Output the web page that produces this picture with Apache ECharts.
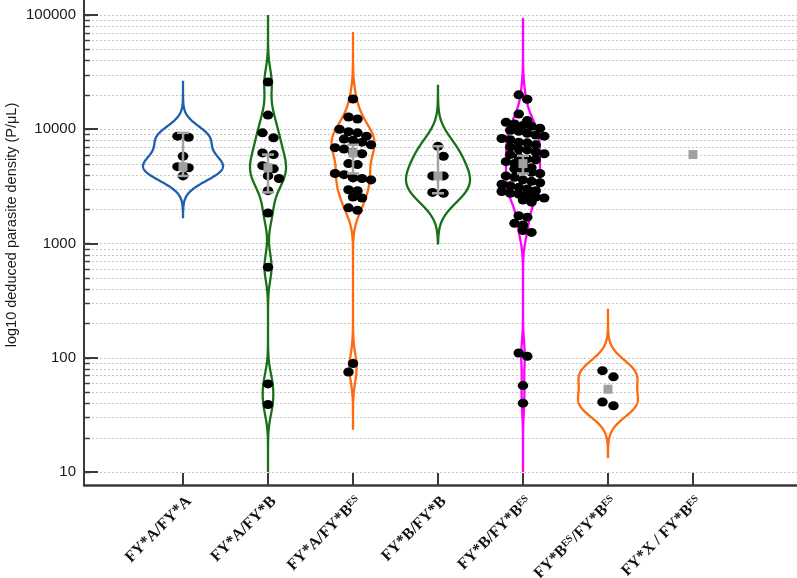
<!DOCTYPE html>
<html><head><meta charset="utf-8">
<script src="https://cdn.jsdelivr.net/npm/echarts@6/dist/echarts.min.js"></script>
<style>html,body{margin:0;padding:0;background:#fff}#c{width:797px;height:578px}</style>
</head><body><div id="c"></div>
<script>
// ---------------- DATA ----------------
const categories = ['FY*A/FY*A','FY*A/FY*B','FY*A/FY*B^ES','FY*B/FY*B','FY*B/FY*B^ES','FY*B^ES/FY*B^ES','FY*X / FY*B^ES'];
const yTickLabels = ['10','100','1000','10000','100000'];
const yTickValues = [10, 100, 1000, 10000, 100000];
const yTitle = 'log10 deduced parasite density (P/\u03bcL)';

const gAA   = [8700, 8500, 5800, 4700, 4600, 3900];
const gAB   = [25900, 13300, 9300, 8400, 6200, 6000, 4800, 4500, 3900, 3700, 2900, 1850, 620, 59, 39];
const gABes = [18400, 12800, 12300, 10000, 9500, 9300, 8700, 8200, 8000, 7700, 7300, 6900, 6700, 6300, 6100,
               5000, 4900, 4100, 4000, 3750, 3700, 3600, 2950, 2900, 2550, 2500, 2050, 1950, 89, 75];
const gBB   = [7100, 5800, 3900, 3900, 2800, 2750];
const gBBes = [20000, 18300, 13600, 11900, 11500, 11100, 10800, 10600, 10200, 9800, 9600, 9200, 8900, 8700, 8300,
               8100, 7700, 7600, 7300, 7000, 6700, 6600, 6300, 6100, 6000, 5700, 5500, 5400, 5200, 5000, 4900,
               4600, 4500, 4400, 4200, 4100, 3900, 3800, 3600, 3500, 3400, 3300, 3200, 3100, 3000, 2900, 2850,
               2750, 2700, 2650, 2550, 2500, 2400, 2300, 1750, 1700, 1500, 1450, 1300, 1250, 110, 103, 57, 40];
const gBesBes = [77, 68, 41, 38];
const gXBes = [];
const groups = [gAA, gAB, gABes, gBB, gBBes, gBesBes, gXBes];

// violin extent (tails)
const violinLow  = [1700, 10, 24, 1000, 10, 13.5, null];
const violinHigh = [26000, 100000, 71000, 24000, 94000, 262, null];
// gray summary marks
const boxTop     = [9300, 6000, 7300, 7100, 5850, null, null];
const boxBottom  = [3900, 2800, 4100, 2750, 4100, null, null];
const centerMark = [4700, 4600, 6200, 3900, 5000, 53, 6000];

// ---------------- STYLE / LAYOUT ----------------
const violinColors = ['#1f5fad', '#177217', '#ff6a0d', '#177217', '#ff00ff', '#ff6a0d', null];
const bandwidths = [0.1, 0.12, 0.12, 0.14, 0.12, 0.12, 0];
const maxHalf = [40, 18, 21.5, 32, 17, 30, 0];
const swarmDX = [11, 11, 9, 11, 8.5, 11, 11];
const W = 797, H = 578;
const GRID = {left: 84, right: 0, top: 0, bottom: 93};
const YMIN = 0.886, YMAX = 5.131;
const XMIN = -0.165, XMAX = 8.224;
const pxPerLog = (H - GRID.top - GRID.bottom) / (YMAX - YMIN);
const pxPerCat = (W - GRID.left - GRID.right) / (XMAX - XMIN);
const DOT_W = 10.5, DOT_H = 9;

const L = Math.log10;
const majorLogs = yTickValues.map(L);
const gridLogs = [];
yTickValues.forEach((b, i) => {
  gridLogs.push(L(b));
  if (i < yTickValues.length - 1) for (let k = 2; k <= 9; k++) gridLogs.push(L(b * k));
});

// row-based swarm offsets (pixels): points close in y share a centred row
function swarm(vals, DX) {
  const DY = 7;
  const order = vals.map((v, i) => i).sort((a, b) => vals[b] - vals[a]);
  const dx = new Array(vals.length);
  let row = [], y0 = null, prevN = -1, prevY = -1e9, shiftToggle = false;
  const flush = () => {
    const n = row.length;
    let shift = 0;
    if (n % 2 === prevN % 2 && Math.abs(prevY - y0) < DOT_H * 1.2) { shiftToggle = !shiftToggle; shift = (shiftToggle ? 1 : -1) * DX / 2; }
    row.forEach((i, j) => { dx[i] = (j - (n - 1) / 2) * DX + shift; });
    prevN = n; prevY = y0; row = [];
  };
  for (const i of order) {
    const y = L(vals[i]) * pxPerLog;
    if (row.length && y0 - y > DY) flush();
    if (!row.length) y0 = y;
    row.push(i);
  }
  if (row.length) flush();
  return dx;
}

const dotData = [];
groups.forEach((g, gi) => {
  const off = swarm(g, swarmDX[gi]);
  g.forEach((v, j) => dotData.push([gi + 1 + off[j] / pxPerCat, L(v)]));
});

const violinData = [];
groups.forEach((g, gi) => { if (violinLow[gi] != null) violinData.push([gi + 1, L(centerMark[gi]), gi]); });
const boxData = [];
groups.forEach((g, gi) => { if (boxTop[gi] != null) boxData.push([gi + 1, L(boxTop[gi]), L(boxBottom[gi])]); });
const centerData = centerMark.map((v, gi) => [gi + 1, L(v)]);

function labelRich(s) {
  const parts = s.split('^ES');
  let out = '';
  parts.forEach((p, i) => {
    if (p.length) out += '{m|' + p + '}';
    if (i < parts.length - 1) out += '{s|ES}';
  });
  return out;
}

const chart = echarts.init(document.getElementById('c'), null, {renderer: 'canvas', width: W, height: H});
chart.setOption({
  animation: false,
  backgroundColor: '#fff',
  grid: {left: GRID.left, right: GRID.right, top: GRID.top, bottom: GRID.bottom, containLabel: false, outerBoundsMode: 'none'},
  xAxis: {
    type: 'value', min: XMIN, max: XMAX,
    axisLine: {show: true, onZero: false, lineStyle: {color: '#3a3a3a', width: 2.5}},
    axisTick: {show: true, inside: true, length: 12, customValues: [1, 2, 3, 4, 5, 6, 7], lineStyle: {color: '#3a3a3a', width: 2}},
    axisLabel: {
      show: true, rotate: 45, margin: 14,
      customValues: [1.07, 2.07, 3.07, 4.07, 5.07, 6.07, 7.07],
      formatter: v => labelRich(categories[Math.round(v) - 1]),
      rich: {
        m: {fontFamily: '"Liberation Serif","Times New Roman",serif', fontWeight: 'bold', fontSize: 16, color: '#111'},
        s: {fontFamily: '"Liberation Serif","Times New Roman",serif', fontWeight: 'bold', fontSize: 10, color: '#111', verticalAlign: 'top'}
      }
    },
    splitLine: {show: false}
  },
  yAxis: {
    type: 'value', min: YMIN, max: YMAX,
    axisLine: {show: true, onZero: false, lineStyle: {color: '#3a3a3a', width: 2}},
    axisTick: {show: true, inside: true, length: 14, customValues: majorLogs, lineStyle: {color: '#3a3a3a', width: 2}},
    axisLabel: {
      show: true, margin: 8, customValues: majorLogs,
      formatter: v => yTickLabels[Math.round(v) - 1],
      fontFamily: '"Liberation Sans",Arial,sans-serif', fontSize: 15, color: '#1a1a1a'
    },
    splitLine: {show: false}
  },
  graphic: [{
    type: 'text', x: 12, y: 225, rotation: Math.PI / 2,
    style: {text: yTitle, fill: '#1a1a1a', font: '14.5px "Liberation Sans", Arial, sans-serif', textAlign: 'center', textVerticalAlign: 'middle'}
  }],
  series: [
    { // grid lines + minor ticks
      type: 'custom', z: 0, silent: true, clip: false,
      data: gridLogs.map(v => [XMIN, v]),
      encode: {x: 0, y: 1},
      renderItem: (params, api) => {
        const cs = params.coordSys;
        const y = Math.round(api.coord([api.value(0), api.value(1)])[1]) + 0.5;
        return {type: 'group', children: [
          {type: 'line', shape: {x1: cs.x, y1: y, x2: cs.x + cs.width, y2: y}, style: {stroke: '#c6c6c6', lineWidth: 1, lineDash: [2, 2]}},
          {type: 'line', shape: {x1: cs.x, y1: y, x2: cs.x + 6, y2: y}, style: {stroke: '#444', lineWidth: 1.5}}
        ]};
      }
    },
    { // violins
      type: 'custom', z: 2, silent: true, clip: true,
      data: violinData,
      encode: {x: 0, y: 1},
      renderItem: (params, api) => {
        const gi = api.value(2);
        const lg = groups[gi].map(L);
        const lo = L(violinLow[gi]), hi = L(violinHigh[gi]);
        const bw = bandwidths[gi], N = 500;
        const dens = []; let dmax = 0;
        for (let i = 0; i <= N; i++) {
          const t = lo + (hi - lo) * i / N;
          let d = 0;
          lg.forEach(v => { d += Math.exp(-0.5 * ((t - v) / bw) ** 2); });
          dens.push([t, d]); if (d > dmax) dmax = d;
        }
        const right = [], left = [];
        dens.forEach(([t, d]) => {
          const p = api.coord([gi + 1, t]);
          const w = maxHalf[gi] * d / dmax;
          right.push([p[0] + w, p[1]]); left.push([p[0] - w, p[1]]);
        });
        return {type: 'polygon', shape: {points: right.concat(left.reverse())},
                style: {fill: 'none', stroke: violinColors[gi], lineWidth: 2.3}};
      }
    },
    { // dots
      type: 'scatter', z: 3, silent: true,
      symbol: 'circle', symbolSize: [DOT_W, DOT_H],
      itemStyle: {color: '#000', opacity: 1},
      data: dotData
    },
    { // gray bars
      type: 'custom', z: 4, silent: true,
      data: boxData, encode: {x: 0, y: [1, 2]},
      renderItem: (params, api) => {
        const a = api.coord([api.value(0), api.value(1)]);
        const b = api.coord([api.value(0), api.value(2)]);
        const st = {stroke: '#a3a3a3', lineWidth: 2.5};
        return {type: 'group', children: [
          {type: 'line', shape: {x1: a[0], y1: a[1], x2: b[0], y2: b[1]}, style: st},
          {type: 'line', shape: {x1: a[0] - 6, y1: a[1], x2: a[0] + 6, y2: a[1]}, style: st},
          {type: 'line', shape: {x1: b[0] - 6, y1: b[1], x2: b[0] + 6, y2: b[1]}, style: st}
        ]};
      }
    },
    { // gray center marks
      type: 'scatter', z: 5, silent: true,
      symbol: 'rect', symbolSize: 9,
      itemStyle: {color: '#a0a0a0', opacity: 1},
      data: centerData
    }
  ]
});
</script>
</body></html>
